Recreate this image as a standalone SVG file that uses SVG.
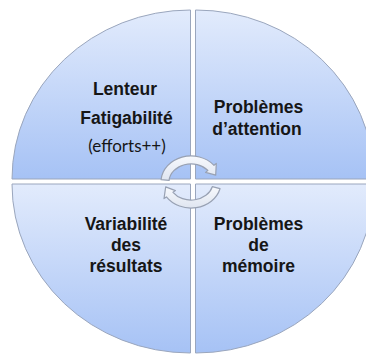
<svg xmlns="http://www.w3.org/2000/svg" width="366" height="356" viewBox="0 0 366 356">
<defs>
<linearGradient id="gq" x1="0" y1="0" x2="0" y2="1">
<stop offset="0" stop-color="#e2ebfc"/>
<stop offset="1" stop-color="#a6c2f5"/>
</linearGradient>
<linearGradient id="ga" x1="0" y1="0" x2="0" y2="1">
<stop offset="0" stop-color="#f7f9fd"/>
<stop offset="1" stop-color="#dfe5f0"/>
</linearGradient>
</defs>
<style>
.q{fill:url(#gq);stroke:#9aa6bd;stroke-width:1}
.t{font-family:"Liberation Sans",Arial,sans-serif;font-weight:bold;font-size:17.5px;fill:#161616;text-anchor:middle}
.s{font-family:Lato,"Liberation Sans",sans-serif;font-size:17px;fill:#161616;text-anchor:middle}
.a{fill:url(#ga);stroke:#98a1b3;stroke-width:1.2;stroke-linejoin:round}
</style>
<rect width="366" height="356" fill="#ffffff"/>
<g id="q1">
<path class="q" d="M190.5,179 L12,179 A178.5,169 0 0 1 190.5,10 Z"/>
<text class="t" x="125" y="95">Lenteur</text>
<text class="t" x="126.5" y="124">Fatigabilité</text>
<text class="s" x="127" y="152">(efforts++)</text>
</g>
<g id="q2">
<path class="q" d="M195.5,179 L195.5,10 A178.5,169 0 0 1 374,179 Z"/>
<text class="t" x="258.5" y="113">Problèmes</text>
<text class="t" x="257" y="135">d’attention</text>
</g>
<g id="q3">
<path class="q" d="M190.5,184 L190.5,353 A178.5,169 0 0 1 12,184 Z"/>
<text class="t" x="126" y="230">Variabilité</text>
<text class="t" x="126" y="251">des</text>
<text class="t" x="126" y="272">résultats</text>
</g>
<g id="q4">
<path class="q" d="M195.5,184 L374,184 A178.5,169 0 0 1 195.5,353 Z"/>
<text class="t" x="258.5" y="230">Problèmes</text>
<text class="t" x="258.5" y="251">de</text>
<text class="t" x="258.5" y="272">mémoire</text>
</g>
<g id="connectors">
<path class="a" d="M161.1,179.7 A30,26 0 0 1 214,165.3 L216.3,163.4 L215.7,175.2 L205.6,172.4 L207.9,170.4 A22,18 0 0 0 169.1,180.4 Z"/>
<path class="a" d="M220,188.7 A30,26 0 0 1 166.4,196.9 L164,198.6 L165.7,186.9 L175.4,190.6 L173,192.3 A22,18 0 0 0 212.3,186.7 Z"/>
</g>
</svg>
